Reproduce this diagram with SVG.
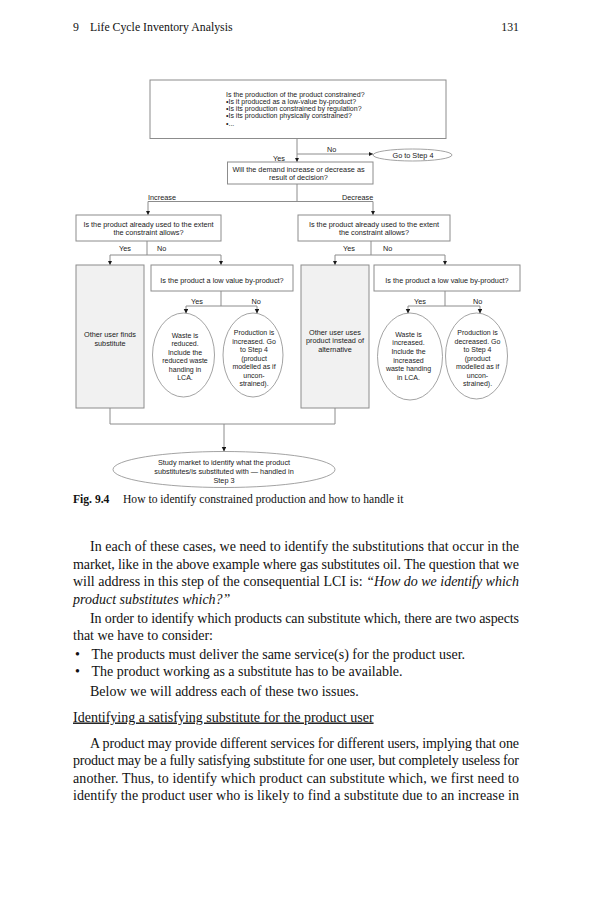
<svg xmlns="http://www.w3.org/2000/svg" width="593" height="900" viewBox="0 0 593 900">
<style>
.bg{fill:#ffffff}
.box{fill:#ffffff;stroke:#8c8c8c;stroke-width:1}
.gbox{fill:#f1f1f1;stroke:#8c8c8c;stroke-width:1}
.ell{fill:#ffffff;stroke:#8c8c8c;stroke-width:0.8}
.con{fill:none;stroke:#8c8c8c;stroke-width:1}
.d{font-family:"Liberation Sans",Arial,sans-serif;font-size:7.3px;fill:#1a1a1a}
.t{font-size:7px}
.e{font-size:7px}
.c{text-anchor:middle}
.body{font-family:"Liberation Serif","Times New Roman",serif;font-size:14px;fill:#111111}
.it{font-style:italic}
.cap{font-family:"Liberation Serif","Times New Roman",serif;font-size:11.6px;fill:#111111}
.hdr{font-family:"Liberation Serif","Times New Roman",serif;font-size:11.8px;fill:#111111}
</style>
<defs>
<marker id="arr" markerWidth="5" markerHeight="5" refX="4.5" refY="2.25" orient="auto" markerUnits="userSpaceOnUse">
<path d="M0,0 L4.5,2.25 L0,4.5 z" fill="#1a1a1a"/>
</marker>
</defs>
<rect class="bg" x="0" y="0" width="593" height="900"/>

<!-- page header -->
<text class="hdr" x="73" y="31">9</text>
<text class="hdr" x="90" y="31">Life Cycle Inventory Analysis</text>
<text class="hdr" x="519" y="31" text-anchor="end">131</text>

<!-- connectors -->
<g id="connectors">
<path class="con" d="M297,138.5 V162" marker-end="url(#arr)"/>
<path class="con" d="M297,154 H373" marker-end="url(#arr)"/>
<path class="con" d="M297,184 V201.5 H148 V215" marker-end="url(#arr)"/>
<path class="con" d="M297,201.5 H373 V215" marker-end="url(#arr)"/>
<path class="con" d="M147,241 V255 H110 V265" marker-end="url(#arr)"/>
<path class="con" d="M147,255 H221 V265" marker-end="url(#arr)"/>
<path class="con" d="M371,241 V255 H335 V265" marker-end="url(#arr)"/>
<path class="con" d="M371,255 H445 V265" marker-end="url(#arr)"/>
<path class="con" d="M221,291 V306 H186 V313.5" marker-end="url(#arr)"/>
<path class="con" d="M221,306 H257 V313.5" marker-end="url(#arr)"/>
<path class="con" d="M445,291 V306 H408 V313.5" marker-end="url(#arr)"/>
<path class="con" d="M445,306 H480 V313.5" marker-end="url(#arr)"/>
<path class="con" d="M110,408 V424 H335 V408"/>
<path class="con" d="M224,424 V451.5" marker-end="url(#arr)"/>
<text class="d" x="327" y="151.5">No</text>
<text class="d" x="273" y="161">Yes</text>
<text class="d" x="148" y="199.5">Increase</text>
<text class="d" x="342" y="199.5">Decrease</text>
<text class="d" x="119" y="251">Yes</text>
<text class="d" x="157" y="251">No</text>
<text class="d" x="343" y="251">Yes</text>
<text class="d" x="383" y="251">No</text>
<text class="d" x="191" y="303.5">Yes</text>
<text class="d" x="251.5" y="303.5">No</text>
<text class="d" x="414" y="303.5">Yes</text>
<text class="d" x="473" y="303.5">No</text>
</g>

<g id="n-constrained">
<rect class="box" x="150" y="80" width="296" height="58.5"/>
<text class="d t" x="226" y="96.5">Is the production of the product constrained?</text>
<text class="d t" x="226" y="103.8">•Is it produced as a low-value by-product?</text>
<text class="d t" x="226" y="111.1">•Is its production constrained by regulation?</text>
<text class="d t" x="226" y="118.4">•Is its production physically constrained?</text>
<text class="d t" x="226" y="125.7">•...</text>
</g>

<g id="n-step4">
<ellipse class="ell" cx="412.5" cy="155" rx="39.5" ry="6"/>
<text class="d c" x="413" y="157.5">Go to Step 4</text>
</g>

<g id="n-demand">
<rect class="box" x="227.5" y="162" width="145.5" height="22"/>
<text class="d c" x="298.5" y="171.6">Will the demand increase or decrease as</text>
<text class="d c" x="298.5" y="179.8">result of decision?</text>
</g>

<g id="n-left-used">
<rect class="box" x="76" y="215" width="145" height="26"/>
<text class="d c" x="148.5" y="226.5">Is the product already used to the extent</text>
<text class="d c" x="148.5" y="234.5">the constraint allows?</text>
</g>

<g id="n-right-used">
<rect class="box" x="298" y="215" width="152" height="26"/>
<text class="d c" x="374" y="226.5">Is the product already used to the extent</text>
<text class="d c" x="374" y="234.5">the constraint allows?</text>
</g>

<g id="n-left-other">
<rect class="gbox" x="76" y="265" width="68" height="143"/>
<text class="d c" x="110" y="336.5">Other user finds</text>
<text class="d c" x="110" y="345.5">substitute</text>
</g>

<g id="n-right-other">
<rect class="gbox" x="301" y="265" width="68" height="143"/>
<text class="d c" x="335" y="334.5">Other user uses</text>
<text class="d c" x="335" y="343">product instead of</text>
<text class="d c" x="335" y="351.5">alternative</text>
</g>

<g id="n-left-lowvalue">
<rect class="box" x="151" y="265" width="142" height="26"/>
<text class="d c" x="222" y="282.5">Is the product a low value by-product?</text>
</g>

<g id="n-right-lowvalue">
<rect class="box" x="374" y="265" width="146" height="26"/>
<text class="d c" x="447" y="282.5">Is the product a low value by-product?</text>
</g>

<g id="n-waste-reduced">
<ellipse class="ell" cx="183.5" cy="355" rx="31" ry="42"/>
<text class="d e c" x="185" y="337.5">Waste is</text>
<text class="d e c" x="185" y="346">reduced.</text>
<text class="d e c" x="185" y="354.5">Include the</text>
<text class="d e c" x="185" y="363">reduced waste</text>
<text class="d e c" x="185" y="371.5">handing in</text>
<text class="d e c" x="185" y="380">LCA.</text>
</g>

<g id="n-prod-increased">
<ellipse class="ell" cx="253" cy="355" rx="30" ry="42"/>
<text class="d e c" x="254" y="335">Production is</text>
<text class="d e c" x="254" y="343.5">increased. Go</text>
<text class="d e c" x="254" y="352">to Step 4</text>
<text class="d e c" x="254" y="360.5">(product</text>
<text class="d e c" x="254" y="369">modelled as if</text>
<text class="d e c" x="254" y="377.5">uncon-</text>
<text class="d e c" x="254" y="386">strained).</text>
</g>

<g id="n-waste-increased">
<ellipse class="ell" cx="410" cy="356.5" rx="32.5" ry="43.5"/>
<text class="d e c" x="408.5" y="336.5">Waste is</text>
<text class="d e c" x="408.5" y="345">increased.</text>
<text class="d e c" x="408.5" y="354">Include the</text>
<text class="d e c" x="408.5" y="362.5">increased</text>
<text class="d e c" x="408.5" y="371">waste handing</text>
<text class="d e c" x="408.5" y="380">in LCA.</text>
</g>

<g id="n-prod-decreased">
<ellipse class="ell" cx="476.5" cy="356" rx="31" ry="43"/>
<text class="d e c" x="477.5" y="335">Production is</text>
<text class="d e c" x="477.5" y="343.5">decreased. Go</text>
<text class="d e c" x="477.5" y="352">to Step 4</text>
<text class="d e c" x="477.5" y="360.5">(product</text>
<text class="d e c" x="477.5" y="369">modelled as if</text>
<text class="d e c" x="477.5" y="377.5">uncon-</text>
<text class="d e c" x="477.5" y="386">strained).</text>
</g>

<g id="n-study-market">
<ellipse class="ell" cx="224" cy="469.5" rx="111" ry="18"/>
<text class="d c" x="224" y="465">Study market to identify what the product</text>
<text class="d c" x="224" y="474">substitutes/is substituted with — handled in</text>
<text class="d c" x="224" y="482.5">Step 3</text>
</g>

<!-- caption -->
<text class="cap" x="73" y="503"><tspan font-weight="bold">Fig. 9.4</tspan></text>
<text class="cap" x="123" y="503">How to identify constrained production and how to handle it</text>

<!-- body text -->
<text class="body" x="90" y="551" textLength="429" lengthAdjust="spacing">In each of these cases, we need to identify the substitutions that occur in the</text>
<text class="body" x="73" y="568.5" textLength="446" lengthAdjust="spacing">market, like in the above example where gas substitutes oil. The question that we</text>
<text class="body" x="73" y="586" textLength="446" lengthAdjust="spacing">will address in this step of the consequential LCI is: <tspan class="it">“How do we identify which</tspan></text>
<text class="body it" x="73" y="603.5">product substitutes which?”</text>
<text class="body" x="90" y="623" textLength="429" lengthAdjust="spacing">In order to identify which products can substitute which, there are two aspects</text>
<text class="body" x="73" y="640">that we have to consider:</text>
<text class="body" x="75" y="658.5">•</text>
<text class="body" x="91.5" y="658.5">The products must deliver the same service(s) for the product user.</text>
<text class="body" x="75" y="675.5">•</text>
<text class="body" x="91.5" y="675.5">The product working as a substitute has to be available.</text>
<text class="body" x="90" y="695.5">Below we will address each of these two issues.</text>
<text class="body" x="73" y="721.5" text-decoration="underline">Identifying a satisfying substitute for the product user</text>
<text class="body" x="90" y="747.5" textLength="429" lengthAdjust="spacing">A product may provide different services for different users, implying that one</text>
<text class="body" x="73" y="765" textLength="446" lengthAdjust="spacing">product may be a fully satisfying substitute for one user, but completely useless for</text>
<text class="body" x="73" y="782.5" textLength="446" lengthAdjust="spacing">another. Thus, to identify which product can substitute which, we first need to</text>
<text class="body" x="73" y="800" textLength="446" lengthAdjust="spacing">identify the product user who is likely to find a substitute due to an increase in</text>
</svg>
